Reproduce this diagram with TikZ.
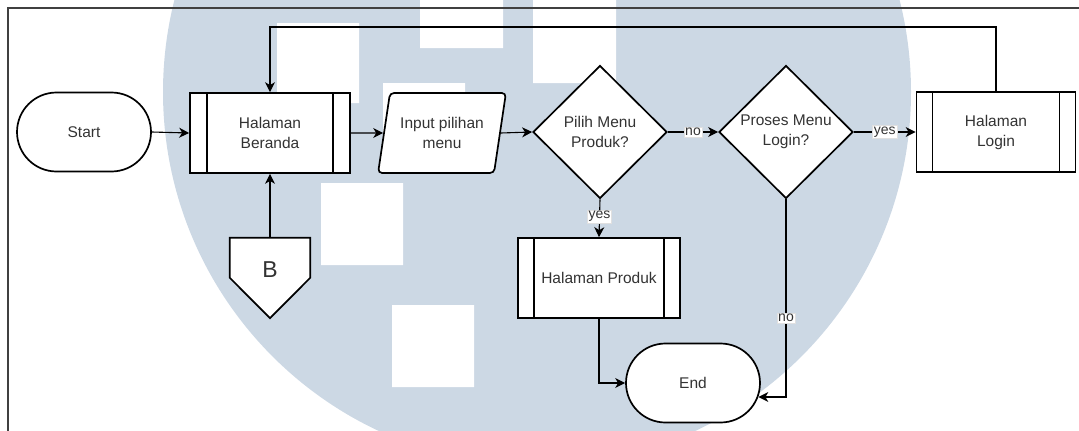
\documentclass[tikz,border=0pt]{standalone}
\usepackage{fontspec}
\setmainfont{Liberation Sans}
\usetikzlibrary{shapes.geometric,arrows.meta,calc}
\definecolor{wm}{RGB}{204,216,228}
\definecolor{txt}{RGB}{51,51,51}
\begin{document}
\begin{tikzpicture}[x=1pt,y=-1pt,
  base/.style={draw=black, line width=1.7pt, fill=white, text=txt, align=center,
    inner sep=0pt, font=\fontsize{15.5}{20}\selectfont},
  term/.style={base, rectangle, rounded corners=39.5pt, minimum width=134pt, minimum height=79pt},
  subproc/.style={base, rectangle, minimum height=80pt,
    path picture={\draw[line width=1.7pt]
      ([xshift=#1]path picture bounding box.north west) -- ([xshift=#1]path picture bounding box.south west)
      ([xshift=-#1]path picture bounding box.north east) -- ([xshift=-#1]path picture bounding box.south east);}},
  subproc/.default=17pt,
  decision/.style={base, diamond, minimum width=134pt, minimum height=133pt},
  io/.style={base, trapezium, trapezium left angle=73, trapezium right angle=107,
    trapezium stretches=true, minimum width=128pt, minimum height=80pt, rounded corners=4pt},
  conn/.style={draw=black, line width=1.1pt},
  arr/.style={conn, -{Stealth[length=10pt,width=10pt,inset=3pt]}},
  lbl/.style={fill=white, draw=black!12, line width=0.4pt, text=txt, inner sep=1.2pt,
    font=\fontsize{14}{15}\selectfont},
  frame/.style={draw=black!75, line width=1.2pt}]

\useasboundingbox (0,0) rectangle (1079,431);

% background emblem
\begin{scope}
  \clip (0,0) rectangle (1079,431);
  \fill[wm] (537,92) circle[radius=374pt];
  \fill[white] (277,23) rectangle (359,103)
               (420,-40) rectangle (503,48)
               (383,83) rectangle (465,165)
               (321,183) rectangle (403,265)
               (392,305) rectangle (474,387)
               (533,-2) rectangle (616,83);
\end{scope}

% page frame
\draw[frame] (8,431) -- (8,8) -- (1079,8);

% nodes
\node[term] (start) at (84,132) {Start};
\node[subproc, minimum width=160pt] (beranda) at (270,133) {Halaman\\Beranda};
\node[io] (inp) at (442,133) {Input pilihan\\menu};
\node[decision] (d1) at (600,132) {Pilih Menu\\Produk?};
\node[decision] (d2) at (786,132) {Proses Menu\\Login?};
\node[subproc=16pt, minimum width=159pt] (login) at (996,132) {Halaman\\Login};
\node[subproc=16pt, minimum width=162pt] (produk) at (599,278) {Halaman Produk};
\node[term] (end) at (693,383) {End};

% off-page connector B
\node[minimum width=80pt, minimum height=80pt, inner sep=0pt] (B) at (270,278) {};
\draw[line width=1.7pt, fill=white] (B.north west) -- (B.north east)
  -- ([yshift=-40pt]B.north east) -- (B.south) -- ([yshift=-40pt]B.north west) -- cycle;
\node[text=txt, font=\fontsize{23}{26}\selectfont] (Btxt) at (270,270) {B};

% loop-back corners and end points
\coordinate (loopL) at (270,27);
\coordinate (noCorner) at (786,397);
\coordinate (endR) at ([xshift=-2.5pt,yshift=-14pt]end.east);

% connectors
\draw[arr] (start.east) -- (beranda.west);
\draw[arr] (beranda.east) -- (inp.west);
\draw[arr] (inp.east) -- (d1.west);
\draw[arr] (d1.east) -- node[lbl]{no} (d2.west);
\draw[arr] (d2.east) -- node[lbl]{yes} (login.west);
\draw[arr] (login.north) |- (loopL) -- (beranda.north);
\draw[arr] (B.north) -- (beranda.south);
\draw[arr] (d1.south) -- node[lbl, pos=0.45]{yes} (produk.north);
\draw[arr] (produk.south) |- (end.west);
\draw[arr] (d2.south) -- node[lbl, pos=0.6]{no} (noCorner) -- (endR);
\end{tikzpicture}
\end{document}
